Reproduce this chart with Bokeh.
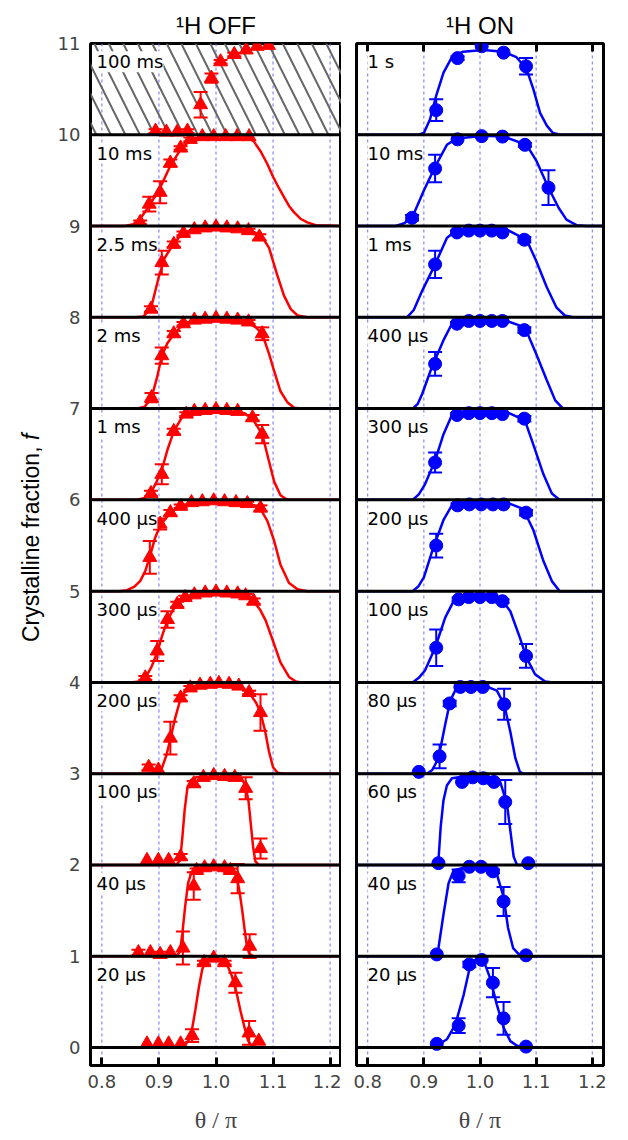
import numpy as np
from bokeh.plotting import figure
from bokeh.models import (ColumnDataSource, Whisker, TeeHead, Span, BoxAnnotation,
                          Label, FixedTicker, Range1d, PrintfTickFormatter, LinearAxis)
from bokeh.layouts import row
from bokeh.embed import file_html
from bokeh.resources import INLINE

# ---------------- data ----------------
X_TICKS = [0.8, 0.9, 1.0, 1.1, 1.2]
Y_TICKS = list(range(12))

OFF_LABELS = ["20 μs", "40 μs", "100 μs", "200 μs", "300 μs", "400 μs",
              "1 ms", "2 ms", "2.5 ms", "10 ms", "100 ms"]
ON_LABELS = ["20 μs", "40 μs", "60 μs", "80 μs", "100 μs", "200 μs",
             "300 μs", "400 μs", "1 ms", "10 ms", "1 s"]

# measured points (stacked values), one list per row, bottom row first
OFF_X = [
    [0.879, 0.899, 0.917, 0.938, 0.958, 0.979, 0.996, 1.015, 1.034, 1.058, 1.075],
    [0.864, 0.885, 0.902, 0.92, 0.942, 0.961, 0.966, 0.98, 0.996, 1.015, 1.025, 1.038, 1.059],
    [0.879, 0.899, 0.917, 0.938, 0.961, 0.978, 0.996, 1.015, 1.033, 1.052, 1.078],
    [0.882, 0.899, 0.92, 0.938, 0.955, 0.972, 0.99, 1.005, 1.023, 1.04, 1.058, 1.078],
    [0.876, 0.897, 0.915, 0.932, 0.946, 0.962, 0.981, 1.0, 1.019, 1.038, 1.052, 1.066],
    [0.884, 0.902, 0.92, 0.938, 0.957, 0.976, 0.996, 1.015, 1.035, 1.055, 1.078],
    [0.886, 0.905, 0.926, 0.948, 0.962, 0.981, 1.0, 1.019, 1.038, 1.064, 1.081],
    [0.887, 0.905, 0.926, 0.943, 0.962, 0.981, 1.0, 1.019, 1.038, 1.057, 1.081],
    [0.886, 0.905, 0.926, 0.943, 0.962, 0.981, 1.0, 1.019, 1.038, 1.057, 1.076],
    [0.867, 0.883, 0.902, 0.92, 0.938, 0.955, 0.976, 0.996, 1.017, 1.037, 1.058],
    [0.894, 0.913, 0.932, 0.95, 0.973, 0.992, 1.008, 1.032, 1.053, 1.072, 1.092],
]
OFF_Y = [
    [0.04, 0.04, 0.04, 0.04, 0.13, 0.93, 0.98, 0.93, 0.71, 0.16, 0.07],
    [1.04, 1.04, 1.02, 1.04, 1.09, 1.77, 1.94, 1.97, 1.98, 1.97, 1.94, 1.85, 1.11],
    [2.05, 2.05, 2.05, 2.09, 2.89, 2.96, 2.98, 2.97, 2.96, 2.84, 2.18],
    [3.07, 3.04, 3.39, 3.83, 3.94, 3.97, 3.98, 3.99, 3.98, 3.96, 3.89, 3.67],
    [4.05, 4.345, 4.69, 4.855, 4.93, 4.96, 4.98, 4.99, 4.98, 4.97, 4.95, 4.89],
    [5.37, 5.735, 5.86, 5.93, 5.97, 5.98, 5.99, 5.98, 5.97, 5.96, 5.91],
    [6.07, 6.28, 6.75, 6.94, 6.97, 6.98, 6.99, 6.98, 6.97, 6.9, 6.72],
    [7.12, 7.58, 7.82, 7.93, 7.97, 7.98, 7.99, 7.98, 7.97, 7.95, 7.82],
    [8.09, 8.6, 8.8, 8.92, 8.96, 8.98, 8.99, 8.98, 8.97, 8.95, 8.88],
    [9.04, 9.24, 9.37, 9.69, 9.855, 9.95, 9.98, 9.98, 9.98, 9.98, 9.98],
    [10.04, 10.03, 10.03, 10.04, 10.33, 10.62, 10.8, 10.88, 10.93, 10.97, 10.98],
]
OFF_ERR = [
    [0, 0, 0, 0, 0.07, 0.02, 0, 0.02, 0.11, 0.13, 0],
    [0.03, 0, 0.03, 0, 0.18, 0.15, 0.02, 0, 0, 0, 0.02, 0.16, 0.13],
    [0, 0, 0, 0.03, 0.03, 0, 0, 0, 0.02, 0.12, 0.11],
    [0.03, 0, 0.18, 0.03, 0.02, 0, 0, 0, 0, 0, 0.02, 0.2],
    [0.02, 0.11, 0.09, 0.03, 0.02, 0, 0, 0, 0, 0, 0.02, 0.03],
    [0.18, 0.06, 0.03, 0.02, 0, 0, 0, 0, 0, 0.02, 0.03],
    [0.03, 0.11, 0.03, 0.02, 0, 0, 0, 0, 0, 0.03, 0.1],
    [0.05, 0.09, 0.03, 0.02, 0, 0, 0, 0, 0, 0.02, 0.07],
    [0.03, 0.13, 0.03, 0.02, 0, 0, 0, 0, 0, 0.02, 0.03],
    [0.02, 0.08, 0.12, 0.04, 0.02, 0.02, 0, 0, 0, 0, 0],
    [0.02, 0, 0, 0.02, 0.14, 0.05, 0.02, 0.02, 0, 0, 0],
]

# fitted curves (stacked values)
OFF_FIT_X = [
    [0.78, 0.935, 0.945, 0.952, 0.958, 0.964, 0.97, 0.976, 0.983, 0.99, 1.01, 1.02, 1.028, 1.036, 1.043, 1.05, 1.056, 1.062, 1.07, 1.22],
    [0.78, 0.93, 0.937, 0.941, 0.946, 0.951, 0.957, 0.966, 1.0, 1.03, 1.036, 1.041, 1.046, 1.05, 1.054, 1.058, 1.065, 1.22],
    [0.78, 0.93, 0.937, 0.941, 0.945, 0.95, 0.956, 0.965, 1.0, 1.045, 1.052, 1.057, 1.061, 1.065, 1.069, 1.075, 1.22],
    [0.78, 0.88, 0.895, 0.905, 0.913, 0.92, 0.928, 0.936, 0.945, 0.955, 0.97, 1.0, 1.04, 1.058, 1.07, 1.078, 1.086, 1.093, 1.1, 1.108, 1.12, 1.22],
    [0.78, 0.85, 0.865, 0.876, 0.887, 0.897, 0.906, 0.915, 0.925, 0.935, 0.95, 0.97, 1.0, 1.05, 1.066, 1.077, 1.087, 1.099, 1.113, 1.128, 1.14, 1.15, 1.22],
    [0.78, 0.83, 0.844, 0.857, 0.867, 0.876, 0.885, 0.893, 0.902, 0.92, 0.94, 0.97, 1.0, 1.06, 1.078, 1.09, 1.102, 1.113, 1.128, 1.143, 1.16, 1.22],
    [0.78, 0.86, 0.875, 0.886, 0.896, 0.905, 0.915, 0.926, 0.94, 0.96, 1.0, 1.05, 1.065, 1.081, 1.093, 1.102, 1.113, 1.125, 1.22],
    [0.78, 0.86, 0.875, 0.887, 0.897, 0.905, 0.915, 0.927, 0.94, 0.96, 1.0, 1.05, 1.07, 1.081, 1.093, 1.102, 1.113, 1.125, 1.137, 1.15, 1.22],
    [0.78, 0.86, 0.873, 0.886, 0.9, 0.91, 0.925, 0.94, 0.96, 1.0, 1.06, 1.081, 1.093, 1.107, 1.119, 1.131, 1.143, 1.16, 1.22],
    [0.78, 0.84, 0.855, 0.867, 0.883, 0.902, 0.92, 0.938, 0.955, 0.975, 1.0, 1.05, 1.066, 1.078, 1.09, 1.1, 1.11, 1.119, 1.128, 1.137, 1.148, 1.16, 1.175, 1.22],
    [],
]
OFF_FIT_Y = [
    [0, 0, 0.02, 0.08, 0.2, 0.42, 0.66, 0.86, 0.96, 0.98, 0.97, 0.9, 0.78, 0.6, 0.4, 0.22, 0.08, 0.02, 0, 0],
    [1, 1, 1.05, 1.25, 1.55, 1.8, 1.92, 1.96, 1.98, 1.96, 1.88, 1.72, 1.5, 1.3, 1.12, 1.03, 1, 1],
    [2, 2, 2.05, 2.3, 2.6, 2.85, 2.93, 2.96, 2.97, 2.95, 2.86, 2.7, 2.45, 2.2, 2.04, 2, 2],
    [3, 3, 3.01, 3.06, 3.2, 3.38, 3.6, 3.78, 3.89, 3.94, 3.97, 3.99, 3.96, 3.89, 3.78, 3.67, 3.47, 3.24, 3.07, 3.01, 3, 3],
    [4, 4, 4.01, 4.05, 4.17, 4.33, 4.52, 4.68, 4.8, 4.88, 4.94, 4.98, 4.99, 4.96, 4.89, 4.8, 4.68, 4.47, 4.22, 4.06, 4.01, 4, 4],
    [5, 5, 5.01, 5.05, 5.11, 5.22, 5.4, 5.58, 5.72, 5.86, 5.94, 5.98, 5.99, 5.96, 5.9, 5.77, 5.55, 5.29, 5.09, 5.02, 5, 5],
    [6, 6, 6.02, 6.08, 6.2, 6.33, 6.55, 6.75, 6.9, 6.97, 6.99, 6.95, 6.88, 6.72, 6.42, 6.2, 6.05, 6, 6],
    [7, 7, 7.02, 7.12, 7.35, 7.58, 7.72, 7.82, 7.91, 7.97, 7.99, 7.96, 7.89, 7.82, 7.6, 7.41, 7.19, 7.07, 7.01, 7, 7],
    [8, 8, 8.01, 8.1, 8.45, 8.65, 8.8, 8.91, 8.97, 8.99, 8.96, 8.88, 8.76, 8.47, 8.24, 8.09, 8.02, 8, 8],
    [9, 9, 9.02, 9.08, 9.22, 9.42, 9.66, 9.84, 9.94, 9.98, 9.99, 9.98, 9.93, 9.82, 9.68, 9.54, 9.42, 9.32, 9.22, 9.15, 9.08, 9.04, 9.01, 9],
    [],
]

ON_X = [
    [0.923, 0.962, 0.981, 1.003, 1.023, 1.042, 1.082],
    [0.923, 0.962, 0.981, 1.002, 1.023, 1.042, 1.082],
    [0.926, 0.968, 0.987, 1.006, 1.025, 1.045, 1.086],
    [0.891, 0.928, 0.946, 0.965, 0.984, 1.005, 1.043],
    [0.922, 0.962, 0.98, 1.0, 1.021, 1.04, 1.082],
    [0.922, 0.96, 0.981, 1.002, 1.023, 1.042, 1.082],
    [0.92, 0.959, 0.98, 1.0, 1.021, 1.04, 1.079],
    [0.92, 0.959, 0.98, 1.0, 1.021, 1.04, 1.079],
    [0.92, 0.959, 0.98, 1.0, 1.021, 1.04, 1.079],
    [0.879, 0.92, 0.96, 1.003, 1.04, 1.08, 1.122],
    [0.922, 0.96, 1.003, 1.042, 1.082],
]
ON_Y = [
    [0.04, 0.24, 0.91, 0.96, 0.71, 0.32, 0.01],
    [1.02, 1.88, 1.98, 1.98, 1.93, 1.6, 1.01],
    [2.02, 2.91, 2.96, 2.95, 2.91, 2.69, 2.02],
    [3.02, 3.19, 3.77, 3.95, 3.95, 3.95, 3.76],
    [4.38, 4.91, 4.935, 4.935, 4.935, 4.89, 4.29],
    [5.5, 5.94, 5.95, 5.95, 5.95, 5.95, 5.86],
    [6.41, 6.93, 6.95, 6.95, 6.95, 6.94, 6.89],
    [7.49, 7.93, 7.96, 7.96, 7.96, 7.96, 7.86],
    [8.58, 8.93, 8.95, 8.95, 8.95, 8.93, 8.85],
    [9.09, 9.63, 9.95, 9.985, 9.98, 9.89, 9.42],
    [10.27, 10.84, 10.97, 10.9, 10.75],
]
ON_ERR = [
    [0, 0.08, 0.03, 0, 0.16, 0.18, 0],
    [0, 0.07, 0, 0, 0.02, 0.16, 0],
    [0, 0, 0, 0, 0.02, 0.24, 0],
    [0, 0.13, 0.03, 0, 0, 0, 0.17],
    [0.2, 0.02, 0, 0, 0, 0.02, 0.13],
    [0.13, 0.02, 0, 0, 0, 0, 0.03],
    [0.11, 0.02, 0, 0, 0, 0, 0.03],
    [0.13, 0.02, 0, 0, 0, 0, 0.03],
    [0.15, 0.02, 0, 0, 0, 0, 0.03],
    [0.03, 0.15, 0, 0, 0, 0.02, 0.19],
    [0.12, 0.02, 0, 0, 0.09],
]
ON_FIT_X = [
    [0.78, 0.91, 0.923, 0.941, 0.956, 0.971, 0.983, 0.995, 1.006, 1.018, 1.03, 1.042, 1.054, 1.066, 1.077, 1.22],
    [0.78, 0.918, 0.926, 0.935, 0.944, 0.953, 0.977, 1.018, 1.03, 1.042, 1.05, 1.059, 1.071, 1.08, 1.22],
    [0.78, 0.922, 0.926, 0.93, 0.935, 0.941, 0.95, 0.983, 1.018, 1.036, 1.048, 1.054, 1.06, 1.066, 1.22],
    [0.78, 0.905, 0.915, 0.926, 0.938, 0.947, 0.959, 0.982, 1.006, 1.03, 1.043, 1.054, 1.063, 1.071, 1.077, 1.22],
    [0.78, 0.88, 0.891, 0.902, 0.92, 0.938, 0.953, 1.0, 1.036, 1.054, 1.071, 1.083, 1.098, 1.116, 1.13, 1.22],
    [0.78, 0.88, 0.89, 0.9, 0.917, 0.935, 0.95, 1.006, 1.048, 1.077, 1.095, 1.113, 1.128, 1.142, 1.22],
    [0.78, 0.88, 0.891, 0.902, 0.92, 0.935, 0.95, 1.006, 1.048, 1.08, 1.097, 1.113, 1.128, 1.142, 1.22],
    [0.78, 0.88, 0.889, 0.897, 0.914, 0.935, 0.95, 1.006, 1.048, 1.08, 1.1, 1.119, 1.134, 1.148, 1.22],
    [0.78, 0.87, 0.882, 0.897, 0.92, 0.941, 0.959, 1.006, 1.048, 1.083, 1.1, 1.119, 1.136, 1.151, 1.166, 1.22],
    [0.78, 0.85, 0.865, 0.879, 0.9, 0.92, 0.941, 0.959, 1.006, 1.042, 1.083, 1.1, 1.122, 1.14, 1.154, 1.172, 1.19, 1.22],
    [0.78, 0.89, 0.9, 0.911, 0.922, 0.935, 0.95, 0.97, 1.006, 1.042, 1.065, 1.083, 1.095, 1.107, 1.119, 1.13, 1.143, 1.22],
]
ON_FIT_Y = [
    [0, 0, 0.02, 0.09, 0.25, 0.58, 0.91, 0.98, 0.96, 0.76, 0.47, 0.22, 0.07, 0.02, 0, 0],
    [1, 1, 1.09, 1.46, 1.8, 1.94, 1.98, 1.98, 1.9, 1.65, 1.31, 1.09, 1.01, 1, 1],
    [2, 2, 2.05, 2.42, 2.71, 2.87, 2.95, 2.98, 2.96, 2.91, 2.67, 2.38, 2.09, 2, 2],
    [3, 3, 3.04, 3.17, 3.54, 3.8, 3.95, 3.98, 3.97, 3.91, 3.76, 3.46, 3.17, 3.02, 3, 3],
    [4, 4, 4.05, 4.13, 4.38, 4.71, 4.89, 4.96, 4.93, 4.78, 4.49, 4.27, 4.09, 4.01, 4, 4],
    [5, 5, 5.05, 5.15, 5.48, 5.78, 5.94, 5.98, 5.97, 5.9, 5.67, 5.33, 5.11, 5, 5],
    [6, 6, 6.06, 6.17, 6.43, 6.72, 6.93, 6.99, 6.96, 6.87, 6.57, 6.28, 6.07, 6, 6],
    [7, 7, 7.05, 7.16, 7.45, 7.75, 7.93, 7.98, 7.96, 7.89, 7.6, 7.31, 7.09, 7, 7],
    [8, 8, 8.08, 8.29, 8.58, 8.87, 8.96, 8.99, 8.96, 8.85, 8.62, 8.33, 8.11, 8.02, 8, 8],
    [9, 9, 9.03, 9.09, 9.39, 9.65, 9.89, 9.96, 9.99, 9.98, 9.89, 9.72, 9.42, 9.2, 9.07, 9.01, 9, 9],
    [10, 10, 10.02, 10.17, 10.43, 10.68, 10.85, 10.91, 10.93, 10.91, 10.85, 10.72, 10.5, 10.24, 10.1, 10.02, 10, 10],
]

# ---------------- styling ----------------
XR = (0.78, 1.22)
YR = (-0.197, 11.0)
NUM_FONT = "DejaVu Sans"
TITLE_FONT = "Liberation Sans"
H = 1140


def make_panel(width, border_left, border_right, color, marker, msize, xs, ys, errs,
               fx, fy, labels, label_x, title, show_y, hatch):
    p = figure(width=width, height=H, x_range=Range1d(*XR), y_range=Range1d(*YR),
               output_backend="svg", toolbar_location=None,
               min_border_left=border_left, min_border_right=border_right,
               min_border_top=43, min_border_bottom=75)
    p.grid.visible = False
    p.outline_line_color = "black"
    p.outline_line_width = 3
    p.background_fill_color = "white"
    p.border_fill_color = "white"

    p.title.text = title
    p.title.align = "center"
    p.title.text_font = TITLE_FONT
    p.title.text_font_size = "24px"
    p.title.text_font_style = "normal"
    p.title.text_color = "black"

    xa = p.xaxis[0]
    xa.ticker = FixedTicker(ticks=X_TICKS)
    xa.formatter = PrintfTickFormatter(format="%.1f")
    xa.axis_line_color = None
    xa.major_tick_in = 8
    xa.major_tick_out = 0
    xa.major_tick_line_width = 3
    xa.minor_tick_line_color = None
    xa.major_label_text_font = NUM_FONT
    xa.major_label_text_font_size = "18px"
    xa.major_label_standoff = 9
    xa.axis_label = "θ / π"
    xa.axis_label_text_font = "Liberation Serif"
    xa.axis_label_text_font_style = "normal"
    xa.axis_label_text_font_size = "24px"
    xa.axis_label_standoff = 16

    ya = p.yaxis[0]
    if show_y:
        ya.ticker = FixedTicker(ticks=Y_TICKS)
        ya.axis_line_color = None
        ya.major_tick_in = 0
        ya.major_tick_out = 0
        ya.minor_tick_line_color = None
        ya.major_label_text_font = NUM_FONT
        ya.major_label_text_font_size = "18px"
        ya.major_label_standoff = 10
    else:
        ya.visible = False

    # dashed guide lines
    for v in X_TICKS:
        p.add_layout(Span(location=v, dimension="height", line_color="#6f6fff",
                          line_width=1, line_dash="3 3", level="underlay"))
    if hatch:
        p.add_layout(BoxAnnotation(bottom=10, top=11, fill_color=None, line_color=None,
                                   hatch_pattern="\\", hatch_color="#666666",
                                   hatch_weight=2, hatch_scale=29, level="underlay"))

    for i in range(len(xs)):
        if len(fx[i]) > 0:
            p.line(fx[i], fy[i], line_color=color, line_width=2.5)
        ex = [x for x, e in zip(xs[i], errs[i]) if e > 0]
        ey = [y for y, e in zip(ys[i], errs[i]) if e > 0]
        ee = [e for e in errs[i] if e > 0]
        if ex:
            src = ColumnDataSource(dict(x=ex, up=[a + b for a, b in zip(ey, ee)],
                                        lo=[a - b for a, b in zip(ey, ee)]))
            w = Whisker(source=src, base="x", upper="up", lower="lo",
                        line_color=color, line_width=2,
                        upper_head=TeeHead(size=14, line_color=color, line_width=2),
                        lower_head=TeeHead(size=14, line_color=color, line_width=2))
            p.add_layout(w)
        p.scatter(xs[i], ys[i], marker=marker, size=msize, fill_color=color,
                  line_color=color)
        p.add_layout(Label(x=label_x, y=i + 0.8, text=labels[i], text_font=NUM_FONT,
                           text_font_size="18px", text_baseline="middle",
                           text_align="left", text_color="black",
                           background_fill_color="white"))

    # horizontal separators
    for k in range(0, 11):
        p.add_layout(Span(location=k, dimension="width", line_color="black",
                          line_width=3))
    return p


YT_W = 50
left = make_panel(341 - YT_W, 90 - YT_W, 0, "#ff0000", "triangle", 14, OFF_X, OFF_Y, OFF_ERR,
                  OFF_FIT_X, OFF_FIT_Y, OFF_LABELS, 0.7905, "¹H OFF", True, True)
right = make_panel(287, 15, 25, "#0000ff", "circle", 13, ON_X, ON_Y, ON_ERR,
                   ON_FIT_X, ON_FIT_Y, ON_LABELS, 0.7996, "¹H ON", False, False)

# top ticks on right panel
top_ax = LinearAxis(ticker=FixedTicker(ticks=X_TICKS), axis_line_color=None,
                    major_tick_in=8, major_tick_out=0, major_tick_line_width=3,
                    minor_tick_line_color=None, major_label_text_font_size="0px",
                    major_label_text_color=None, major_label_standoff=0)
right.add_layout(top_ax, "above")

# narrow strip holding the rotated y-axis title (with italic f);
# it shares the vertical scale of the panels
ytitle = figure(width=YT_W, height=H, x_range=Range1d(0, YT_W), y_range=Range1d(*YR),
                output_backend="svg", toolbar_location=None, title=None,
                min_border_left=0, min_border_right=0, min_border_top=43,
                min_border_bottom=75)
ytitle.axis.visible = False
ytitle.grid.visible = False
ytitle.outline_line_color = None
ytitle.add_layout(Label(x=30, y=6.585, text="Crystalline fraction,", angle=np.pi / 2,
                        text_font=TITLE_FONT, text_font_size="23px",
                        text_align="right", text_baseline="middle", text_color="black"))
ytitle.add_layout(Label(x=30, y=6.655, text="f", angle=np.pi / 2,
                        text_font=TITLE_FONT, text_font_size="23px",
                        text_font_style="italic",
                        text_align="left", text_baseline="middle", text_color="black"))

layout = row(ytitle, left, right)
open("out.html", "w").write(file_html(layout, INLINE))
